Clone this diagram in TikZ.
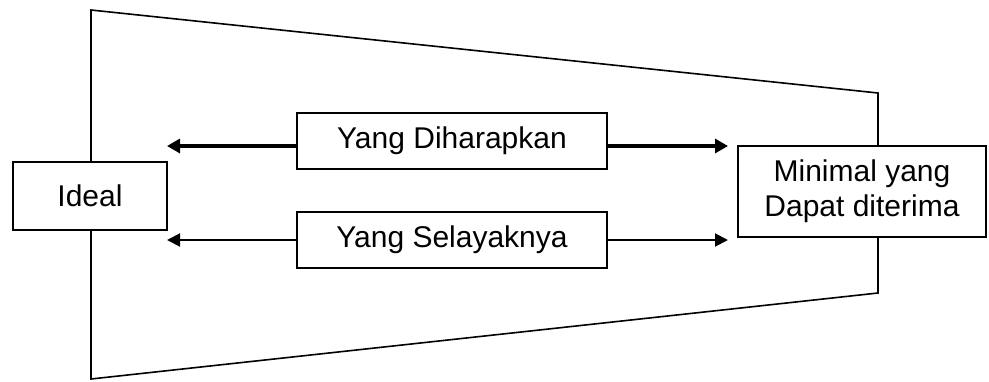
\documentclass[tikz,border=0pt]{standalone}
\usepackage{fontspec}
\setmainfont{Liberation Sans}
\usetikzlibrary{arrows.meta}
\begin{document}
\begin{tikzpicture}[x=1pt,y=-1pt,
  box/.style={draw=black, line width=2pt, fill=white, inner sep=0pt,
    font=\fontsize{30}{35}\selectfont, align=center},
  frame/.style={draw=black, line width=1.6pt, line join=miter},
  boldarrow/.style={line width=4pt, -{Triangle[length=13pt,width=14pt]}},
  thinarrow/.style={line width=2pt, -{Triangle[length=13pt,width=13pt]}}]
\useasboundingbox (0,0) rectangle (989,381);

% funnel outline behind the end boxes
\coordinate (tl) at (91,10);
\coordinate (tr) at (878,93);
\coordinate (br) at (878,293);
\coordinate (bl) at (91,379);
\draw[frame] (tr) -- (tl) -- (bl) -- (br) -- cycle;

% boxes
\node[box, minimum width=154pt, minimum height=68pt] (ideal) at (90,196) {Ideal};
\node[box, minimum width=248pt, minimum height=91pt] (minimal) at (862,191.5)
  {Minimal yang\\Dapat diterima};
\node[box, minimum width=310pt, minimum height=56pt] (harap) at (452,141) {Yang Diharapkan};
\node[box, minimum width=310pt, minimum height=56pt] (layak) at (452,240) {Yang Selayaknya};

% arrow tips
\coordinate (hl) at (167,146);
\coordinate (hr) at (728,146);
\coordinate (ll) at (167,240);
\coordinate (lr) at (728,240);

\draw[boldarrow] (harap.west |- hl) -- (hl);
\draw[boldarrow] (harap.east |- hr) -- (hr);
\draw[thinarrow] (layak.west |- ll) -- (ll);
\draw[thinarrow] (layak.east |- lr) -- (lr);
\end{tikzpicture}
\end{document}
